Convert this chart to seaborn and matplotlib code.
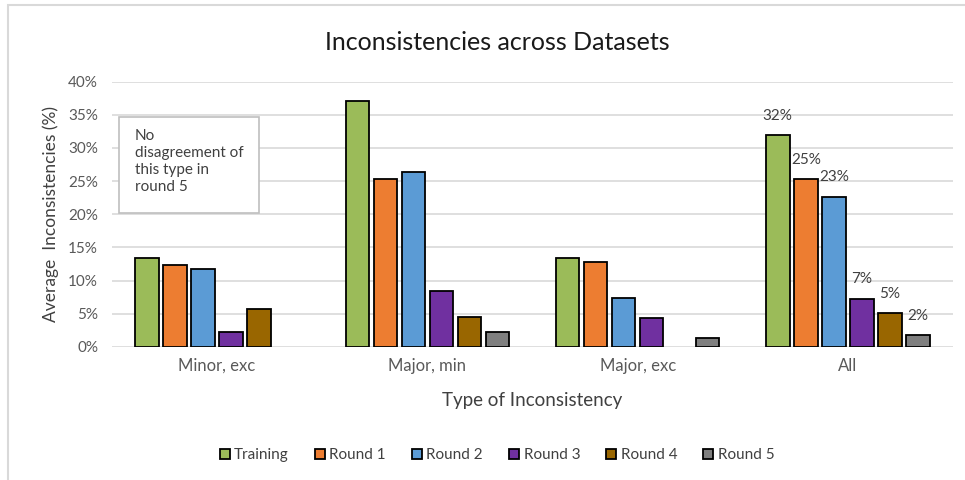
import matplotlib
matplotlib.use("Agg")
import matplotlib.pyplot as plt
import matplotlib.ticker as mticker
from matplotlib.patches import Rectangle
import seaborn as sns
import pandas as pd

# Inconsistency types on the x axis
categories = ["Minor, exc", "Major, min", "Major, exc", "All"]
series = ["Training", "Round 1", "Round 2", "Round 3", "Round 4", "Round 5"]

# Average inconsistency share per dataset (fractions)
training = [0.134, 0.370, 0.134, 0.319]
round_1 = [0.124, 0.253, 0.128, 0.253]
round_2 = [0.117, 0.263, 0.074, 0.226]
round_3 = [0.022, 0.085, 0.044, 0.073]
round_4 = [0.057, 0.045, 0.000, 0.051]
round_5 = [0.000, 0.023, 0.014, 0.018]

colors = ["#9BBB59", "#ED7D31", "#5B9BD5", "#7030A0", "#996600", "#7F7F7F"]

values = [training, round_1, round_2, round_3, round_4, round_5]
df = pd.DataFrame(
    [(cat, name, v) for name, vals in zip(series, values) for cat, v in zip(categories, vals)],
    columns=["Type", "Dataset", "Value"],
)

sns.set_theme(style="white")
plt.rcParams["font.family"] = ["Lato", "DejaVu Sans"]

W, H = 965, 480
fig = plt.figure(figsize=(W / 100, H / 100), dpi=100)
ax = fig.add_axes([112 / W, 1 - 347 / H, (953 - 112) / W, (347 - 81.5) / H])

sns.barplot(
    data=df, x="Type", y="Value", hue="Dataset",
    order=categories, hue_order=series,
    palette=dict(zip(series, colors)), saturation=1,
    edgecolor="black", linewidth=1.3, width=0.8, gap=0.16,
    ax=ax, legend=True,
)

# Hide outlines of empty bars
for p in ax.patches:
    if p.get_height() == 0:
        p.set_linewidth(0)

ax.set_ylim(0, 0.40)
ax.set_xlim(-0.5, len(categories) - 0.5)
ax.yaxis.set_major_locator(mticker.MultipleLocator(0.05))
ax.yaxis.set_major_formatter(mticker.PercentFormatter(1.0, decimals=0))
ax.grid(axis="y", color="#D9D9D9", linewidth=1.2)
ax.set_axisbelow(True)
for s in ax.spines.values():
    s.set_visible(False)
ax.tick_params(axis="both", length=0, labelcolor="#595959")
ax.tick_params(axis="y", pad=10, labelsize=11)
ax.tick_params(axis="x", pad=8, labelsize=12)

ax.set_xlabel("Type of Inconsistency", fontsize=13.5, color="#404040", labelpad=13)
ax.set_ylabel("Average  Inconsistencies (%)", fontsize=12.5, color="#404040", labelpad=7)

# Value labels on the "All" group only
last = len(categories) - 1
for cont, vals in zip(ax.containers, values):
    labels = ["" if i != last else f"{vals[i]:.0%}" for i in range(len(vals))]
    ax.bar_label(cont, labels=labels, padding=9, fontsize=11, color="#404040")

# Note box
ax.add_patch(Rectangle((0.0083, 0.505), 0.1665, 0.362, transform=ax.transAxes,
                       facecolor="white", edgecolor="#BFBFBF", linewidth=1.2, zorder=5))
ax.text(0.0273, 0.82, "No\ndisagreement of\nthis type in\nround 5",
        transform=ax.transAxes, ha="left", va="top", fontsize=11,
        color="#404040", linespacing=1.25, zorder=6)

fig.suptitle("Inconsistencies across Datasets", x=497 / W, y=1 - 42 / H,
             va="center", fontsize=18, color="#1A1A1A")

leg = ax.legend(loc="center", bbox_to_anchor=(497 / W, 1 - 455 / H),
                bbox_transform=fig.transFigure, ncol=6, frameon=False,
                fontsize=11, handlelength=0.65, handleheight=0.65,
                handletextpad=0.3, columnspacing=1.7)
for t in leg.get_texts():
    t.set_color("#404040")
for h in leg.legend_handles:
    h.set_edgecolor("black")
    h.set_linewidth(1.3)

# Chart outer frame
fig.add_artist(Rectangle((8 / W, -0.01), 1.0, 1 - 5 / H + 0.01, transform=fig.transFigure,
                         fill=False, edgecolor="#D9D9D9", linewidth=1.5))

fig.savefig("out.png", dpi=100)
